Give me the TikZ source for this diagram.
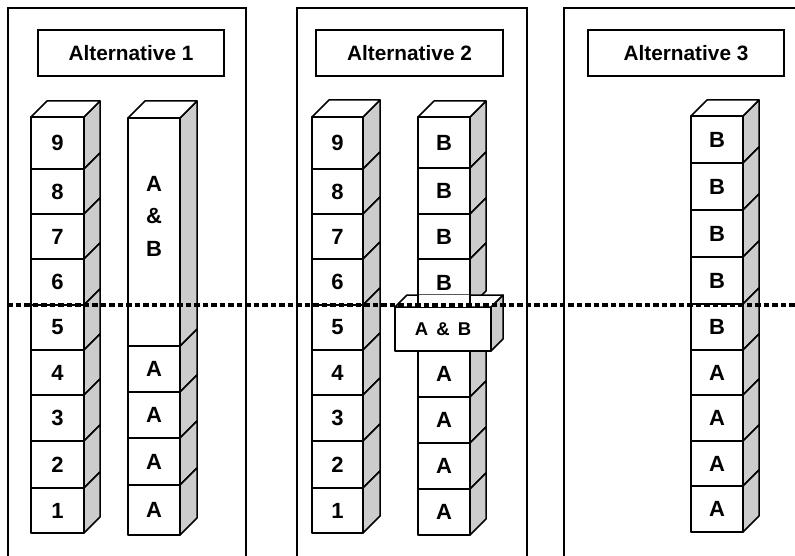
\documentclass[tikz,border=0pt]{standalone}
\usepackage{fontspec}
\setmainfont{Liberation Sans}
\definecolor{sidegray}{HTML}{CCCCCC}
\newcommand\cubefont{\fontsize{22}{32.5}\selectfont\bfseries}
\newcommand\titlefont{\fontsize{20.8}{24}\selectfont\bfseries}
\newcommand\slabfont{\fontsize{18.5}{20}\selectfont\bfseries}

% one stack of cubes: #1 name prefix, #2 left x, #3 width, #4 depth, #5 list top/bottom/label (top to bottom)
\newcommand\drawstack[5]{%
  \foreach \ya/\yb/\lab [count=\i] in {#5}{%
    \node[face, anchor=north west, minimum width=#3pt,
          minimum height={(\yb-\ya)*1pt}] (#1\i) at (#2,\ya) {\lab};
    \draw[side] (#1\i.north east) -- ++(#4,-#4) -- ++(0,\yb-\ya)
                -- (#1\i.south east) -- cycle;
  }%
}
% top face over a front face node: #1 node, #2 depth
\newcommand\drawlid[2]{%
  \draw[lid] (#1.north west) -- ++(#2,-#2)
     -- ([xshift=#2pt,yshift=#2pt]#1.north east) -- (#1.north east) -- cycle;
}

\begin{document}
\begin{tikzpicture}[x=1pt,y=-1pt,
  panel/.style={draw, line width=1.5pt, inner sep=0, outer sep=0, anchor=north west},
  titlebox/.style={draw, fill=white, line width=1.5pt, inner sep=0, outer sep=0,
                   anchor=north west, font=\titlefont},
  face/.style={draw, fill=white, line width=1.5pt, line join=round,
               inner sep=0, outer sep=0, font=\cubefont},
  side/.style={draw, fill=sidegray, line width=1.5pt, line join=round},
  lid/.style={draw, fill=white, line width=1.5pt, line join=round},
  cutline/.style={line width=4pt, dash pattern=on 5.5pt off 3pt}]
\useasboundingbox (0,0) rectangle (795,556);
\clip (0,0) rectangle (795,556);

% panels (open at the bottom edge, the third one also at the right)
\node[panel, minimum width=238pt, minimum height=570pt] (pan1) at (8,8) {};
\node[panel, minimum width=230pt, minimum height=570pt] (pan2) at (297,8) {};
\node[panel, minimum width=260pt, minimum height=570pt] (pan3) at (564,8) {};

% headings
\node[titlebox, minimum width=186pt, minimum height=46pt] (t1) at (38,30) {Alternative 1};
\node[titlebox, minimum width=187pt, minimum height=46pt] (t2) at (316,30) {Alternative 2};
\node[titlebox, minimum width=196pt, minimum height=46pt] (t3) at (588,30) {Alternative 3};

% ---- Alternative 1 ----
\drawstack{pa}{31}{53}{16}{117/169/9, 169/214/8, 214/259/7, 259/305/6, 305/350/5,
                           350/395/4, 395/441/3, 441/488/2, 488/533/1}
\drawlid{pa1}{16}
\drawstack{pb}{128}{52}{17}{346/392/A, 392/438/A, 438/485/A, 485/535/A}
\node[face, anchor=north west, minimum width=52pt, minimum height=228pt] (pbt) at (128,118) {};
\draw[side] (pbt.north east) -- ++(17,-17) -- ++(0,228) -- (pbt.south east) -- cycle;
\drawlid{pbt}{17}
\node[font=\cubefont, align=center] (pbtl) at (154,216) {A\\\&\\B};

% ---- Alternative 2 ----
\drawstack{qa}{312}{51}{17}{117/169/9, 169/214/8, 214/259/7, 259/305/6, 305/350/5,
                            350/395/4, 395/441/3, 441/488/2, 488/533/1}
\drawlid{qa1}{17}
\drawstack{qb}{418}{52}{16}{117/168/B, 168/214/B, 214/259/B, 259/307/B}
\drawlid{qb1}{16}
\drawstack{qc}{418}{52}{16}{351/397/A, 397/443/A, 443/489/A, 489/535/A}
% shared slab
\node[face, anchor=north west, minimum width=96pt, minimum height=44pt, font=\slabfont]
  (ab) at (395,307) {A\hspace{3pt} \&\hspace{3pt} B};
\draw[side] (ab.north east) -- ++(12,-12) -- ++(0,44) -- (ab.south east) -- cycle;
\drawlid{ab}{12}
% front of the lowest B cube passing in front of the slab top
\fill[white] ([yshift=12pt]qb4.south west) rectangle (qb4.south east);
\draw[line width=1.5pt] ([yshift=12pt]qb4.south west) -- (qb4.south west)
   (qb4.south east) -- ([yshift=12pt]qb4.south east);

% ---- Alternative 3 ----
\drawstack{ra}{691}{52}{16}{116/163/B, 163/210/B, 210/257/B, 257/304/B, 304/350/B,
                            350/395/A, 395/441/A, 441/486/A, 486/532/A}
\drawlid{ra1}{16}

% dotted cut line across all panels
\coordinate (cutL) at (7,305);
\coordinate (cutR) at (795,305);
\draw[cutline] (cutL) -- (cutR);
\end{tikzpicture}
\end{document}
